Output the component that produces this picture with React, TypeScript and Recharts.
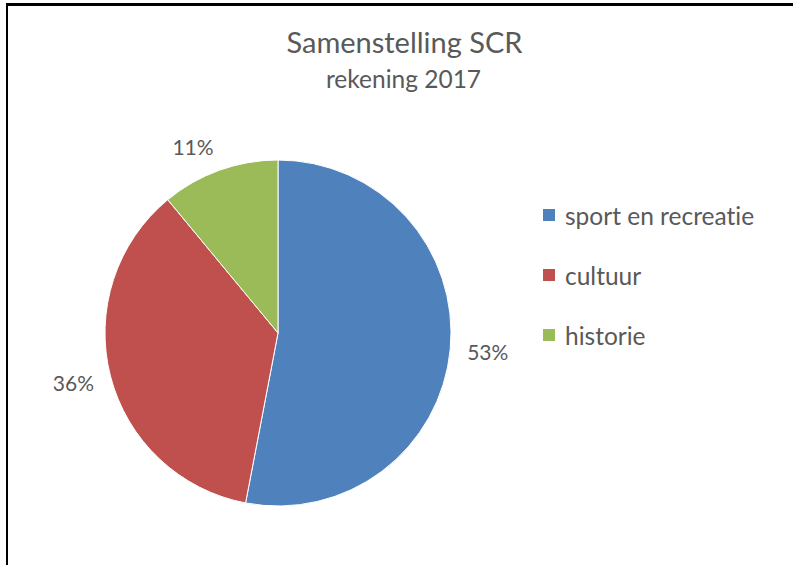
import React from 'react';
import { PieChart, Pie, Cell, Legend } from 'recharts';

const categories = ['sport en recreatie', 'cultuur', 'historie'];
const shares = [53, 36, 11];
const colors = ['#4F81BD', '#C0504D', '#9BBB59'];
const title = 'Samenstelling SCR';
const subtitle = 'rekening 2017';

const data = categories.map((name, i) => ({ name, value: shares[i] }));

const FONT = 'Lato, "Liberation Sans", sans-serif';
const GREY = '#595959';
const RAD = Math.PI / 180;

const renderLabel = (props: any) => {
  const { cx, cy, midAngle, outerRadius, value } = props;
  const c = Math.cos(-midAngle * RAD);
  const s = Math.sin(-midAngle * RAD);
  const r = outerRadius + 17;
  const x = cx + r * c;
  const y = cy + r * s + s * 8;
  return (
    <text
      x={x}
      y={y}
      fill={GREY}
      fontFamily={FONT}
      fontSize={21}
      textAnchor={c >= 0 ? 'start' : 'end'}
      dominantBaseline="central"
    >
      {`${value}%`}
    </text>
  );
};

const renderLegend = () => (
  <div style={{ fontFamily: FONT, color: GREY, fontSize: 24.5, fontVariantLigatures: 'none' }}>
    {data.map((d, i) => (
      <div key={d.name} style={{ height: 60, display: 'flex', alignItems: 'center' }}>
        <span style={{ display: 'inline-block', width: 12, height: 12, background: colors[i], marginRight: 10 }} />
        <span style={{ whiteSpace: 'nowrap' }}>{d.name}</span>
      </div>
    ))}
  </div>
);

export default function App() {
  return (
    <div style={{ position: 'fixed', left: 0, top: 0, width: 793, height: 565, background: '#fff', overflow: 'hidden' }}>
      <div
        style={{
          position: 'absolute',
          left: 6,
          top: 3,
          width: 820,
          height: 620,
          borderTop: '3px solid #000',
          borderLeft: '2px solid #000',
        }}
      />
      <svg width={793} height={120} style={{ position: 'absolute', left: 0, top: 0 }}>
        <text x={404.5} y={53} textAnchor="middle" fontFamily={FONT} fontSize={29} fill={GREY}>
          {title}
        </text>
        <text x={403.5} y={88} textAnchor="middle" fontFamily={FONT} fontSize={24.5} fill={GREY}>
          {subtitle}
        </text>
      </svg>
      <div style={{ position: 'absolute', left: 0, top: 0 }}>
        <PieChart width={793} height={565} margin={{ top: 0, right: 0, bottom: 0, left: 0 }}>
          <Pie
            data={data}
            dataKey="value"
            nameKey="name"
            cx={278}
            cy={333}
            outerRadius={173}
            startAngle={90}
            endAngle={-270}
            stroke="#ffffff"
            strokeWidth={1}
            label={renderLabel}
            labelLine={false}
            isAnimationActive={false}
          >
            {data.map((d, i) => (
              <Cell key={d.name} fill={colors[i]} />
            ))}
          </Pie>
          <Legend
            layout="vertical"
            align="right"
            verticalAlign="top"
            content={renderLegend}
            wrapperStyle={{ left: 543, top: 185, width: 245 }}
          />
        </PieChart>
      </div>
    </div>
  );
}
